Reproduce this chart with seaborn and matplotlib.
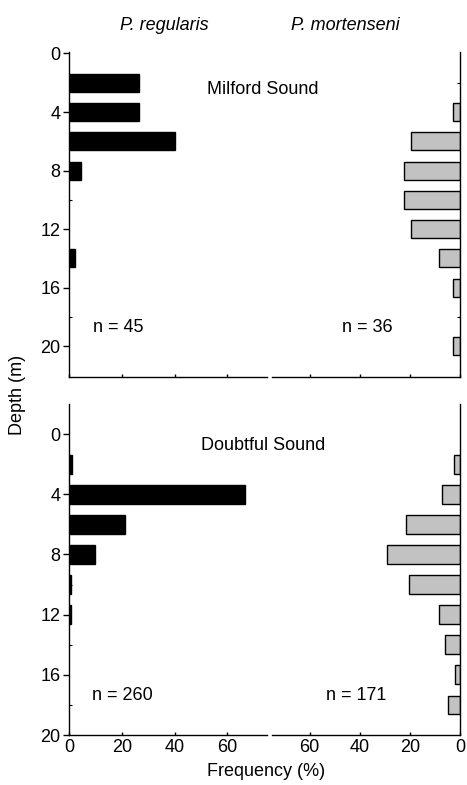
import numpy as np
import pandas as pd
import matplotlib
matplotlib.use("Agg")
import matplotlib.pyplot as plt
import seaborn as sns

# -----------------------------
# DATA (frequency % by depth bin, m)
# -----------------------------
milford_reg_depth = [2, 4, 6, 8, 14]
milford_reg_freq = [26.7, 26.7, 40.0, 4.4, 2.2]

milford_mor_depth = [4, 6, 8, 10, 12, 14, 16, 20]
milford_mor_freq = [2.8, 19.4, 22.2, 22.2, 19.4, 8.3, 2.8, 2.8]

doubtful_reg_depth = [2, 4, 6, 8, 10, 12]
doubtful_reg_freq = [1.2, 66.5, 21.2, 10.0, 0.8, 0.8]

doubtful_mor_depth = [2, 4, 6, 8, 10, 12, 14, 16, 18]
doubtful_mor_freq = [2.3, 7.0, 21.6, 29.2, 20.5, 8.2, 5.8, 1.8, 4.7]

sample_sizes = {"milford": (45, 36), "doubtful": (260, 171)}

# -----------------------------
# STYLE
# -----------------------------
sns.set_style("ticks")
plt.rcParams["font.family"] = ["Liberation Sans", "DejaVu Sans"]
plt.rcParams["font.size"] = 13
plt.rcParams["text.color"] = "black"
plt.rcParams["xtick.color"] = "black"
plt.rcParams["ytick.color"] = "black"

FS = 13

fig = plt.figure(figsize=(4.67, 7.85), dpi=100)

W, H = 467, 785


def make_ax(x0, x1, y0, y1):
    return fig.add_axes([x0 / W, 1 - y1 / H, (x1 - x0) / W, (y1 - y0) / H])


ax_tl = make_ax(69, 267, 52, 377)
ax_tr = make_ax(272, 460, 52, 377)
ax_bl = make_ax(69, 267, 404, 735)
ax_br = make_ax(272, 460, 404, 735)

panels = [
    (ax_tl, milford_reg_freq, milford_reg_depth, "black", "left", (22.1, -0.1)),
    (ax_tr, milford_mor_freq, milford_mor_depth, "#c2c2c2", "right", (22.1, -0.1)),
    (ax_bl, doubtful_reg_freq, doubtful_reg_depth, "black", "left", (20, -2)),
    (ax_br, doubtful_mor_freq, doubtful_mor_depth, "#c2c2c2", "right", (20, -2)),
]

for ax, freq, depth, col, side, ylim in panels:
    sns.barplot(x=freq, y=depth, orient="h", native_scale=True, width=0.62,
                color=col, saturation=1, edgecolor="black", linewidth=1.0,
                errorbar=None, ax=ax)
    ax.set_ylim(*ylim)
    ax.set_xlabel("")
    ax.set_ylabel("")
    for s in ax.spines.values():
        s.set_linewidth(1.0)
        s.set_color("black")
    ax.spines["top"].set_visible(False)
    if side == "left":
        ax.set_xlim(0, 75)
        ax.spines["right"].set_visible(False)
        ax.set_yticks([0, 4, 8, 12, 16, 20])
        ax.set_yticks([2, 6, 10, 14, 18], minor=True)
        ax.tick_params(axis="y", which="major", direction="out", length=4,
                       width=1, labelsize=FS, pad=2)
        ax.tick_params(axis="y", which="minor", direction="in", length=2, width=0.8)
    else:
        ax.set_xlim(75, 0)
        ax.spines["left"].set_visible(False)
        ax.yaxis.tick_right()
        ax.set_yticks([2, 6, 10, 14, 18])
        ax.set_yticklabels([])
        ax.tick_params(axis="y", which="major", direction="in", length=2, width=0.8)
    ax.set_xticks([0, 20, 40, 60])
    ax.tick_params(axis="x", direction="in", length=2.5, width=1, labelsize=FS, pad=3)

# top row: no x tick labels
ax_tl.set_xticklabels([])
ax_tr.set_xticklabels([])

# -----------------------------
# TEXT
# -----------------------------
fig.text(164 / W, 1 - 25 / H, "P. regularis", style="italic", ha="center", va="center", fontsize=FS)
fig.text(345 / W, 1 - 25 / H, "P. mortenseni", style="italic", ha="center", va="center", fontsize=FS)
fig.text(263 / W, 1 - 89 / H, "Milford Sound", ha="center", va="center", fontsize=FS)
fig.text(263 / W, 1 - 445 / H, "Doubtful Sound", ha="center", va="center", fontsize=FS)

fig.text(118 / W, 1 - 328 / H, "n = %d" % sample_sizes["milford"][0], ha="center", va="center", fontsize=FS)
fig.text(367 / W, 1 - 328 / H, "n = %d" % sample_sizes["milford"][1], ha="center", va="center", fontsize=FS)
fig.text(122 / W, 1 - 695 / H, "n = %d" % sample_sizes["doubtful"][0], ha="center", va="center", fontsize=FS)
fig.text(356 / W, 1 - 695 / H, "n = %d" % sample_sizes["doubtful"][1], ha="center", va="center", fontsize=FS)

fig.text(18 / W, 1 - 395 / H, "Depth (m)", rotation=90, ha="center", va="center", fontsize=FS)
fig.text(266 / W, 1 - 772 / H, "Frequency (%)", ha="center", va="center", fontsize=FS)

fig.savefig("out.png", dpi=100)
